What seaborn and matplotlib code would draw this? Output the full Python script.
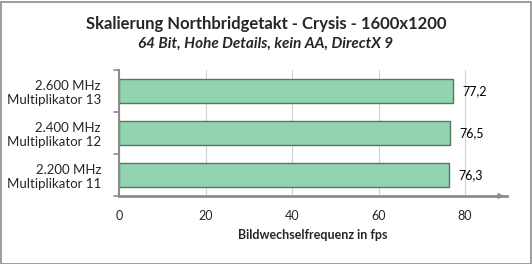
import matplotlib
matplotlib.use("Agg")
import matplotlib.pyplot as plt
import seaborn as sns
import pandas as pd

categories = ["2.600 MHz\nMultiplikator 13", "2.400 MHz\nMultiplikator 12", "2.200 MHz\nMultiplikator 11"]
values = [77.2, 76.5, 76.3]
value_labels = ["77,2", "76,5", "76,3"]
xticks = [0, 20, 40, 60, 80]

sns.set_theme(style="white")
plt.rcParams['font.family'] = ['Lato', 'DejaVu Sans']

fig = plt.figure(figsize=(5.32, 2.64), dpi=100)
fig.patch.set_facecolor("white")
ax = fig.add_axes([119/532, 68/264, (507-119)/532, (196-70)/264])

df = pd.DataFrame({"cat": categories, "val": values})
sns.barplot(data=df, x="val", y="cat", orient="h", color="#92d4b0", width=0.55,
            edgecolor="#4f7a62", linewidth=1.0, saturation=1, ax=ax)

ax.set_xlim(0, 89.7)
ax.set_ylim(2.5, -0.5)
ax.set_xticks(xticks)
ax.set_xticklabels([str(t) for t in xticks], fontsize=9)
ax.xaxis.grid(True, color="#d0d0d0", linewidth=0.8)
ax.set_axisbelow(True)
ax.tick_params(axis="x", length=4, color="#8c8c8c", width=1.2, pad=8, direction="inout")
ax.tick_params(axis="y", length=0, pad=13)
for lab in ax.get_yticklabels():
    lab.set_fontsize(9.5)
    lab.set_horizontalalignment("right")
    lab.set_multialignment("right")
ax.set_ylabel("")
ax.set_xlabel("Bildwechselfrequenz in fps", fontsize=9, fontweight="bold", labelpad=5)

for s in ["top", "right"]:
    ax.spines[s].set_visible(False)
ax.spines["left"].set_color("#8c8c8c")
ax.spines["left"].set_linewidth(1.5)
ax.spines["bottom"].set_color("#8c8c8c")
ax.spines["bottom"].set_linewidth(2)

# category boundary ticks on y axis
for yb in [-0.5, 0.5, 1.5, 2.5]:
    ax.plot([-1.2, 0], [yb, yb], color="#8c8c8c", lw=1.2, clip_on=False, transform=ax.transData)

# arrow at end of x-axis
ax.annotate("", xy=(1.0, 0), xytext=(0.97, 0), xycoords="axes fraction",
            arrowprops=dict(arrowstyle="-|>", color="#8c8c8c", lw=0, mutation_scale=12))

for i, (v, t) in enumerate(zip(values, value_labels)):
    ax.text(v + 2.2, i, t, va="center", ha="left", fontsize=9, color="black")

fig.text(0.5, 1 - 24/264, "Skalierung Northbridgetakt - Crysis - 1600x1200",
         ha="center", va="center", fontsize=12, fontweight="bold")
fig.text(0.5, 1 - 44/264, "64 Bit, Hohe Details, kein AA, DirectX 9",
         ha="center", va="center", fontsize=11, fontweight="bold", style="italic")

border = plt.Rectangle((0.5/532, 0.5/264), 1 - 2/532, 1 - 2/264, transform=fig.transFigure,
                       fill=False, edgecolor="#8c8c8c", linewidth=1.2)
fig.patches.append(border)

fig.savefig("out.png", dpi=100)
